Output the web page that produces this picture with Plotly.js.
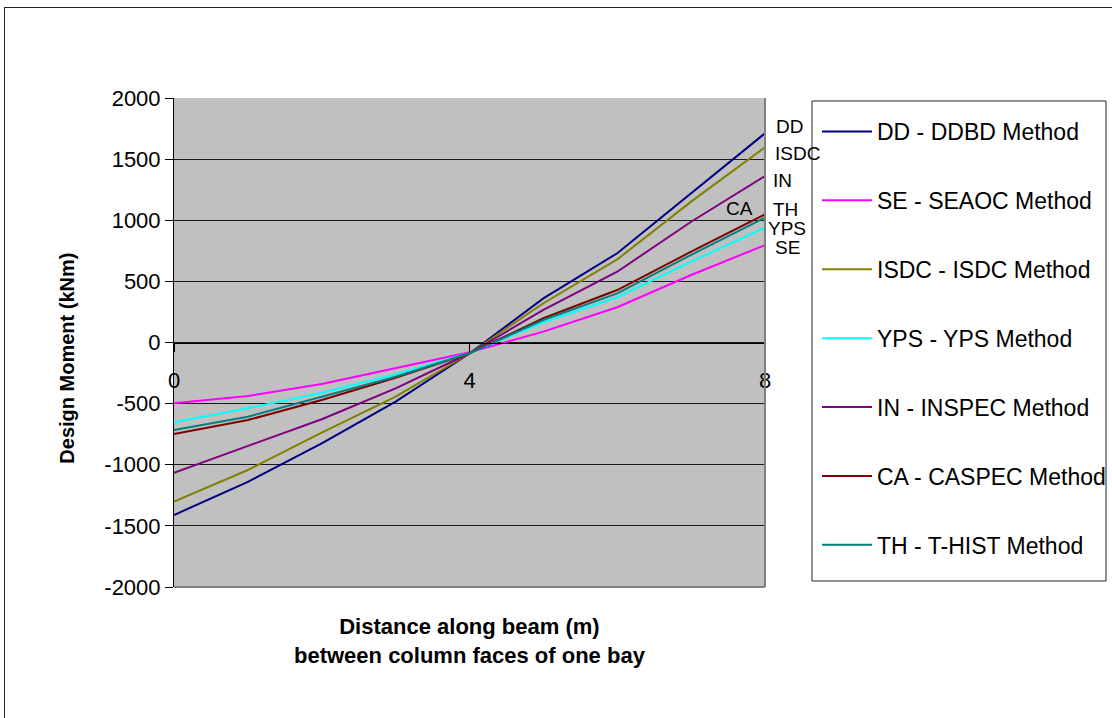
<!DOCTYPE html>
<html>
<head>
<meta charset="utf-8">
<script src="https://cdn.plot.ly/plotly-3.0.1.min.js"></script>
<style>
  html, body { margin: 0; padding: 0; background: #fff; overflow: hidden; }
  #wrap { position: relative; width: 1112px; height: 718px; }
  #chart { position: absolute; left: 0; top: 0; width: 1112px; height: 718px; }
  #frame { position: absolute; left: 4px; top: 7px; width: 1200px; height: 800px;
           border: 1px solid #222; pointer-events: none; }
</style>
</head>
<body>
<div id="wrap">
  <div id="chart"></div>
  <div id="frame"></div>
</div>
<script>
// Distance along the beam between column faces (m)
const distance = [0, 1, 2, 3, 4, 5, 6, 7, 8];

// Design moment (kNm) for each design method
const ddbd   = [-1411, -1140, -825, -484, -90, 361, 730, 1222, 1711];
const seaoc  = [-497, -438, -340, -211, -80, 89, 288, 552, 797];
const isdc   = [-1302, -1043, -738, -443, -90, 321, 680, 1152, 1597];
const yps    = [-653, -538, -411, -260, -85, 165, 370, 661, 939];
const inspec = [-1065, -845, -628, -375, -88, 266, 579, 988, 1362];
const caspec = [-749, -634, -470, -288, -88, 198, 429, 743, 1049];
const thist  = [-716, -607, -443, -280, -88, 184, 402, 716, 1021];

const seriesNames  = ['DD - DDBD Method', 'SE - SEAOC Method', 'ISDC - ISDC Method',
                      'YPS - YPS Method', 'IN - INSPEC Method', 'CA - CASPEC Method',
                      'TH - T-HIST Method'];
const seriesShort  = ['DD', 'SE', 'ISDC', 'YPS', 'IN', 'CA', 'TH'];
const seriesValues = [ddbd, seaoc, isdc, yps, inspec, caspec, thist];
const seriesColors = ['#000080', '#FF00FF', '#808000', '#00FFFF', '#800080', '#800000', '#008080'];

const yTicks = [2000, 1500, 1000, 500, 0, -500, -1000, -1500, -2000];
const xTicks = [0, 4, 8];

const FONT = 'Liberation Sans, Arial, sans-serif';

const traces = seriesValues.map((vals, i) => ({
  type: 'scatter',
  mode: 'lines',
  x: distance,
  y: vals,
  name: seriesNames[i],
  legendgroup: 'g' + i,
  line: { color: seriesColors[i], width: 2 },
  hoverinfo: 'skip'
}));

// End-of-line labels: [dx, dy, anchor] offsets in pixels from the last point
const labelOffsets = {
  DD:   [9, 7, 'left'],
  SE:   [8, -2, 'left'],
  ISDC: [8, -6, 'left'],
  YPS:  [1, -1, 'left'],
  IN:   [6, -4, 'left'],
  CA:   [-10, 6, 'right'],
  TH:   [6, 8, 'left']
};

const labelFont = { family: FONT, size: 19, color: '#000' };
const endLabels = seriesShort.map((s, i) => {
  const vals = seriesValues[i];
  const o = labelOffsets[s];
  return {
    x: distance[distance.length - 1], y: vals[vals.length - 1],
    xref: 'x', yref: 'y', text: s, showarrow: false,
    xanchor: o[2], yanchor: 'middle', xshift: o[0], yshift: o[1],
    font: labelFont
  };
});

const layout = {
  width: 1112,
  height: 718,
  margin: { l: 174, r: 347, t: 98, b: 131, autoexpand: false },
  paper_bgcolor: '#ffffff',
  plot_bgcolor: '#c0c0c0',
  font: { family: FONT, color: '#000' },
  showlegend: true,
  legend: {
    x: 1.088, y: 0.9755, xanchor: 'left', yanchor: 'top',
    bgcolor: 'rgba(0,0,0,0)', borderwidth: 0,
    font: { size: 23, family: FONT, color: '#000' },
    traceorder: 'grouped', tracegroupgap: 36, itemwidth: 50
  },
  xaxis: {
    range: [0, 8],
    anchor: 'free', position: 0.5,
    tickvals: xTicks, ticktext: xTicks.map(String),
    ticks: 'outside', ticklen: 8, tickcolor: '#000',
    ticklabelstandoff: 10,
    showgrid: false, zeroline: false,
    showline: true, linecolor: '#000', linewidth: 1,
    tickfont: { size: 22 }
  },
  yaxis: {
    range: [-2000, 2000],
    tickvals: yTicks, ticktext: yTicks.map(String),
    ticks: 'outside', ticklen: 8, tickcolor: '#000',
    showgrid: true, gridcolor: '#1a1a1a', gridwidth: 1,
    zeroline: false,
    showline: true, linecolor: '#000', linewidth: 1,
    tickfont: { size: 22 }
  },
  shapes: [
    // plot-area border (right and bottom edges)
    { type: 'line', xref: 'paper', yref: 'paper', x0: 1, x1: 1, y0: 0, y1: 1,
      line: { color: '#808080', width: 2 } },
    { type: 'line', xref: 'paper', yref: 'paper', x0: 0, x1: 1, y0: 0, y1: 0,
      line: { color: '#808080', width: 2 } },
    // legend box
    { type: 'rect', xref: 'paper', yref: 'paper', x0: 1.0795, x1: 1.577, y0: 0.0123, y1: 0.9939,
      line: { color: '#222', width: 1 }, fillcolor: 'rgba(0,0,0,0)', layer: 'below' }
  ],
  annotations: endLabels.concat([
    {
      xref: 'paper', yref: 'paper', x: -0.181, y: 0.467,
      text: '<b>Design Moment (kNm)</b>', textangle: -90, showarrow: false,
      xanchor: 'center', yanchor: 'middle',
      font: { size: 20, family: FONT, color: '#000' }
    },
    {
      xref: 'paper', yref: 'paper', x: 0.5, y: -0.110,
      text: '<b>Distance along beam (m)</b><br><b>between column faces of one bay</b>',
      showarrow: false, xanchor: 'center', yanchor: 'middle',
      font: { size: 22, family: FONT, color: '#000' }
    }
  ])
};

Plotly.newPlot('chart', traces, layout, { staticPlot: true, displayModeBar: false });
</script>
</body>
</html>
